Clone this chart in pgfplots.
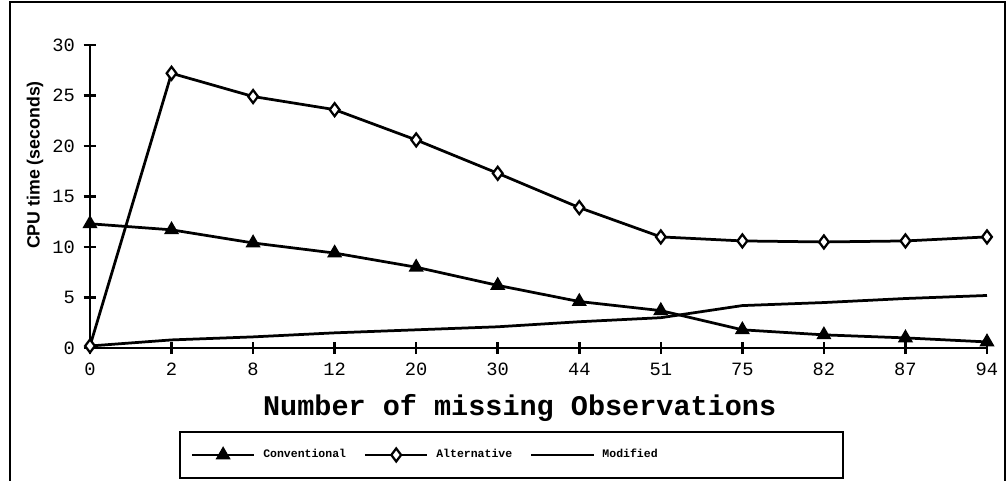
\documentclass[border=0pt]{standalone}
\usepackage{fontspec}
\setmainfont{Liberation Sans}
\newfontfamily\monofont{Liberation Mono}
\usepackage{pgfplots}
\pgfplotsset{compat=1.18}

\begin{document}
\begin{tikzpicture}
\path[use as bounding box] (-36pt,-53.2pt) rectangle (366.8pt,139.2pt);
% outer frame
\draw[line width=0.8pt] (-32pt,-53.2pt) -- (-32pt,138.4pt) -- (366pt,138.4pt) -- (366pt,-53.2pt);
\begin{axis}[
  scale only axis, width=358.8pt, height=121.2pt,
  xmin=0, xmax=11, ymin=0, ymax=30,
  clip=false,
  axis lines=left, axis line style={line width=1.1pt,-},
  xtick={0,...,11},
  xticklabels={0,2,8,12,20,30,44,51,75,82,87,94},
  ytick={0,5,...,30},
  tick align=center, major tick length=5pt,
  tick style={line width=1pt,black},
  ticklabel style={font=\monofont\fontsize{7.5}{8}\selectfont},
  /pgf/number format/assume math mode=true,
  xlabel={Number of missing Observations},
  xlabel style={at={(rel axis cs:0.479,-0.198)}, anchor=center,
    font=\monofont\bfseries\fontsize{11.4}{13}\selectfont},
  ylabel={CPU time (seconds)},
  ylabel style={at={(rel axis cs:-0.0613,0.604)}, anchor=center,
    font=\bfseries\fontsize{7.1}{8}\selectfont},
  legend columns=3,
  legend style={draw=none, fill=none, inner sep=0pt,
    at={(axis description cs:0.1115,-0.353)}, anchor=west,
    font=\monofont\bfseries\fontsize{4.6}{5}\selectfont,
    /tikz/every odd column/.append style={column sep=1pt},
    /tikz/every even column/.append style={column sep=5pt}},
  legend image code/.code={\draw[mark repeat=2,mark phase=2,#1]
    plot coordinates {(0pt,0pt) (12.5pt,0pt) (25pt,0pt)};},
]
\addplot[black, line width=1.1pt, mark=triangle*, mark size=2.4pt]
  coordinates {(0,12.3) (1,11.7) (2,10.4) (3,9.4) (4,8.0) (5,6.2)
               (6,4.6) (7,3.7) (8,1.8) (9,1.3) (10,1.0) (11,0.6)};
\addlegendentry{Conventional}
\addplot[black, line width=1.1pt, mark=diamond*, mark size=2.6pt,
  mark options={fill=white, line width=0.9pt}]
  coordinates {(0,0.2) (1,27.2) (2,24.9) (3,23.6) (4,20.6) (5,17.3)
               (6,13.9) (7,11.0) (8,10.6) (9,10.5) (10,10.6) (11,11.0)};
\addlegendentry{Alternative}
\addplot[black, line width=1.1pt, mark=none]
  coordinates {(0,0.2) (1,0.8) (2,1.1) (3,1.5) (4,1.8) (5,2.1)
               (6,2.6) (7,3.0) (8,4.2) (9,4.5) (10,4.9) (11,5.2)};
\addlegendentry{Modified}
\end{axis}
% legend box
\draw[line width=1pt] (36pt,-33.6pt) rectangle (301.2pt,-52pt);
\end{tikzpicture}
\end{document}
